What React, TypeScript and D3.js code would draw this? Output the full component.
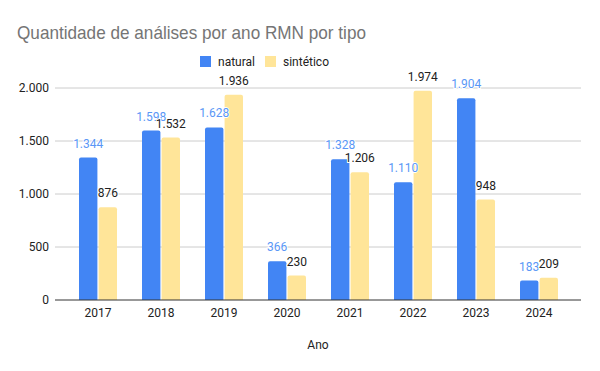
import { scaleBand, scaleLinear, formatLocale } from "d3";

const years = ["2017", "2018", "2019", "2020", "2021", "2022", "2023", "2024"];
const natural = [1344, 1598, 1628, 366, 1328, 1110, 1904, 183];
const sintetico = [876, 1532, 1936, 230, 1206, 1974, 948, 209];
const yTicks = [0, 500, 1000, 1500, 2000];
const seriesNames = ["natural", "sintético"];
const seriesColors = ["#4285f4", "#ffe599"];
const labelColors = ["#5a97f6", "#222222"];

const ptBR = formatLocale({ decimal: ",", thousands: ".", grouping: [3], currency: ["R$", ""] });
const fmt = ptBR.format(",d");

const FONT = "Roboto, Arial, sans-serif";

function topRounded(x: number, y: number, w: number, h: number, r: number) {
  const rr = Math.min(r, h, w / 2);
  return `M${x},${y + h}V${y + rr}Q${x},${y} ${x + rr},${y}H${x + w - rr}Q${x + w},${y} ${x + w},${y + rr}V${y + h}Z`;
}

export default function App() {
  const width = 600;
  const height = 371;
  const left = 55;
  const right = 581;
  const y = scaleLinear().domain([0, 2000]).range([300, 88]);
  const x = scaleBand().domain(years).range([66.5, 570.5]).padding(0);
  const inner = scaleBand().domain(seriesNames).range([0, 38]).paddingInner(0.06);
  const groupOffset = (x.bandwidth() - 38) / 2;
  const data = [natural, sintetico];

  return (
    <svg width={width} height={height} style={{ position: "absolute", left: 0, top: 0, background: "#fff" }}>
      <rect width={width} height={height} fill="#fff" />
      <text
        x={17}
        y={39}
        fontFamily="'Liberation Sans', Arial, sans-serif"
        fontSize={19}
        fill="#757575"
        textLength={349}
        lengthAdjust="spacingAndGlyphs"
      >
        Quantidade de análises por ano RMN por tipo
      </text>
      {/* legend */}
      <g fontFamily={FONT} fontSize={12} fill="#222">
        <rect x={200} y={56} width={11} height={11} fill={seriesColors[0]} />
        <text x={218} y={66}>natural</text>
        <rect x={265} y={56} width={11} height={11} fill={seriesColors[1]} />
        <text x={283} y={66}>sintético</text>
      </g>
      {yTicks.map((t) => (
        <g key={t}>
          {t > 0 && <line x1={left} x2={right} y1={y(t)} y2={y(t)} stroke="#cccccc" strokeWidth={1} />}
          <text x={49} y={y(t) + 4} textAnchor="end" fontFamily={FONT} fontSize={12} fill="#222">
            {fmt(t)}
          </text>
        </g>
      ))}
      {years.map((yr, i) => (
        <g key={yr}>
          {data.map((arr, s) => {
            const bx = (x(yr) as number) + groupOffset + (inner(seriesNames[s]) as number);
            const bw = inner.bandwidth();
            const v = arr[i];
            return (
              <path key={s} d={topRounded(bx, y(v), bw, y(0) - y(v), 2)} fill={seriesColors[s]} />
            );
          })}
          <text
            x={(x(yr) as number) + x.bandwidth() / 2}
            y={317}
            textAnchor="middle"
            fontFamily={FONT}
            fontSize={12}
            fill="#222"
          >
            {yr}
          </text>
        </g>
      ))}
      {years.map((yr, i) =>
        data.map((arr, s) => {
          const bx = (x(yr) as number) + groupOffset + (inner(seriesNames[s]) as number);
          const bw = inner.bandwidth();
          const v = arr[i];
          return (
            <text
              key={yr + s}
              x={bx + bw / 2}
              y={y(v) - 10}
              textAnchor="middle"
              fontFamily={FONT}
              fontSize={12}
              fill={labelColors[s]}
              stroke="#fff"
              strokeWidth={2}
              paintOrder="stroke"
            >
              {fmt(v)}
            </text>
          );
        })
      )}
      <line x1={left} x2={right} y1={y(0)} y2={y(0)} stroke="#333" strokeWidth={1} />
      <text x={318} y={349} textAnchor="middle" fontFamily={FONT} fontSize={12} fill="#222">
        Ano
      </text>
    </svg>
  );
}
